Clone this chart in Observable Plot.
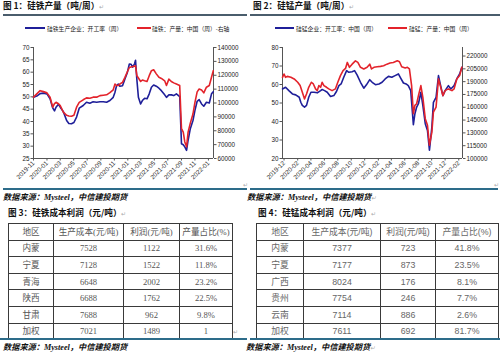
<!DOCTYPE html>
<html><head><meta charset="utf-8">
<script src="https://cdn.jsdelivr.net/npm/d3@7"></script>
<script src="https://cdn.jsdelivr.net/npm/@observablehq/plot@0.6"></script>
<style>
html,body{margin:0;padding:0;background:#fff;}
#page{position:relative;width:500px;height:354px;overflow:hidden;font-family:"Noto Sans CJK SC",sans-serif;background:#fff;}
.abs{position:absolute;white-space:nowrap;}
.title{font-size:8.6px;font-weight:bold;color:#111;line-height:10px;}
.ret{color:#aaa;font-weight:normal;font-size:6px;}
.bar{position:absolute;height:2px;}
.src{font-family:"Liberation Serif","Noto Sans CJK SC",serif;font-style:italic;font-weight:bold;font-size:8.2px;color:#111;line-height:10px;}
.legend{font-size:5.8px;color:#222;line-height:7px;}
.sw{position:absolute;height:1.6px;}
table{border-collapse:collapse;table-layout:fixed;position:absolute;}
td{border:1px solid #3a3a3a;text-align:center;vertical-align:middle;padding:0;overflow:hidden;white-space:nowrap;line-height:10px;}
#t3 td{font-family:"Liberation Serif","Noto Sans CJK SC",serif;font-size:8.6px;color:#555;}
#t4 td{font-family:"Liberation Sans","Noto Sans CJK SC",sans-serif;font-size:8.8px;color:#666;}
</style></head>
<body>
<div id="page">
  <div class="abs title" style="left:3px;top:0px">图 1：硅铁产量（吨/周）<span class="ret">↵</span></div>
  <div class="abs title" style="left:253px;top:0px">图 2：硅锰产量（吨/周）<span class="ret">↵</span></div>
  <div class="bar" style="left:3px;top:13.5px;width:244px;background:#4a5d6c"></div>
  <div class="bar" style="left:250px;top:13.5px;width:250px;background:#4a5d6c"></div>

  <div class="sw" style="left:25px;top:27px;width:20px;background:#1f1f99"></div>
  <div class="abs legend" style="left:47px;top:24.5px">硅铁生产企业：开工率（周）</div>
  <div class="sw" style="left:137px;top:27px;width:14px;background:#e3232b"></div>
  <div class="abs legend" style="left:152px;top:24.5px">硅铁：产量：中国（周）-右轴</div>

  <div class="sw" style="left:275px;top:27px;width:19px;background:#1f1f99"></div>
  <div class="abs legend" style="left:296px;top:24.5px">硅锰企业：开工率：中国（周）</div>
  <div class="sw" style="left:388px;top:27px;width:19px;background:#e3232b"></div>
  <div class="abs legend" style="left:409px;top:24.5px">硅锰：产量：中国（周）</div>

  <div id="c1" class="abs" style="left:0px;top:33px"></div>
  <div id="c2" class="abs" style="left:250px;top:33px"></div>

  <div class="abs ret" style="left:243px;top:180px">↵</div>
  <div class="abs ret" style="left:494px;top:180px">↵</div>
  <div class="bar" style="left:3px;top:188px;width:244px;background:#2d6c8a"></div>
  <div class="bar" style="left:250px;top:188px;width:248px;background:#2d6c8a"></div>

  <div class="abs src" style="left:3px;top:193px">数据来源：Mysteel，中信建投期货</div>
  <div class="abs src" style="left:247px;top:193px">数据来源：Mysteel，中信建投期货<span class="ret">↵</span></div>
  <div class="abs title" style="left:8px;top:207px">图 3：硅铁成本利润（元/吨）<span class="ret">↵</span></div>
  <div class="abs title" style="left:258px;top:207px">图 4：硅锰成本利润（元/吨）<span class="ret">↵</span></div>

  <table id="t3" style="left:8px;top:223px"></table>
  <table id="t4" style="left:256px;top:223px"></table>
  <div class="abs ret" style="left:233px;top:327px">↵</div>

  <div class="bar" style="left:0px;top:338px;width:247px;background:#2d6c8a"></div>
  <div class="bar" style="left:250px;top:338px;width:250px;background:#2d6c8a"></div>
  <div class="abs src" style="left:3px;top:343px">数据来源：Mysteel，中信建投期货</div>
  <div class="abs src" style="left:246px;top:343px">数据来源：Mysteel，中信建投期货<span class="ret">↵</span></div>
</div>
<script>
// ---------- Chart 1: 硅铁 ----------
const feDates = ["2019-11-01","2019-11-16","2019-12-01","2019-12-16","2020-01-01","2020-01-15","2020-01-27","2020-02-04","2020-02-11","2020-02-22",
"2020-03-01","2020-03-15","2020-03-30","2020-04-09","2020-04-21","2020-05-02","2020-05-14","2020-05-26","2020-06-13","2020-06-28",
"2020-07-13","2020-07-28","2020-08-13","2020-08-28","2020-09-12","2020-09-27","2020-10-12","2020-10-27","2020-11-04","2020-11-11",
"2020-11-19","2020-11-26","2020-12-08","2020-12-19","2020-12-30","2021-01-08","2021-01-16","2021-01-23","2021-02-01","2021-02-05",
"2021-02-11","2021-02-18","2021-02-28","2021-03-08","2021-03-18","2021-03-29","2021-04-08","2021-04-18","2021-04-28","2021-05-10",
"2021-05-22","2021-06-02","2021-06-17","2021-06-25","2021-07-06","2021-07-17","2021-07-28","2021-08-09","2021-08-24","2021-09-01",
"2021-09-09","2021-09-16","2021-09-24","2021-10-01","2021-10-11","2021-10-23","2021-11-01","2021-11-11","2021-11-20","2021-12-01",
"2021-12-11","2021-12-23","2022-01-05","2022-01-15","2022-01-23"];
const feRate = [49.8,50.3,51.3,51.5,51.2,49.2,45.5,44.3,45.8,47.0,
45.8,44.0,40.4,39.2,39.1,39.6,41.8,45.4,46.5,47.8,
47.4,48.0,47.8,48.0,48.0,47.8,48.5,49.8,51.9,54.5,
55.2,54.3,54.5,57.2,59.9,63.3,63.2,62.0,63.5,64.8,
57.0,49.8,47.1,48.5,49.4,49.2,51.2,53.9,54.8,54.3,
53.5,52.5,50.8,49.8,50.8,50.8,50.5,51.2,50.1,31.0,
30.6,29.7,28.3,32.4,37.1,40.4,44.5,48.2,48.9,47.1,
46.2,47.8,47.5,51.2,52.1];
const feOutput = [104200,106600,108900,108200,107300,104200,97000,99500,100500,99500,
98200,93400,91100,90600,90400,91100,97000,100500,102300,103700,
103400,104200,104200,105300,105600,105900,107500,109500,113700,112600,
112600,113700,114900,118500,122500,125600,126000,126300,126600,126800,
119700,118000,115500,116500,116000,115500,119700,123300,124000,121000,
118500,117700,116000,112600,117200,115500,114500,113700,112600,81500,
79000,71900,68400,79000,85500,92000,100500,108000,110100,109400,
107300,111400,112600,118500,123300];
const feLeftTicks = [25,30,35,40,45,50,55,60,65,70];
const feRightTicks = [60000,70000,80000,90000,100000,110000,120000,130000,140000];
const feXTicks = ["2019-11","2020-01","2020-03","2020-05","2020-07","2020-09","2020-11","2021-01","2021-03","2021-05","2021-07","2021-09","2021-11","2022-01"];
const feXDomain = ["2019-11-01","2022-01-24"];

// ---------- Chart 2: 硅锰 ----------
const mnRateDates = ["2019-11-24","2019-12-08","2019-12-23","2020-01-08","2020-01-23","2020-02-08","2020-02-15","2020-02-22","2020-03-03","2020-03-12",
"2020-03-22","2020-04-01","2020-04-15","2020-04-30","2020-05-15","2020-05-22","2020-06-02","2020-06-14","2020-06-29","2020-07-14",
"2020-07-26","2020-08-06","2020-08-16","2020-08-28","2020-09-10","2020-09-20","2020-10-05","2020-10-16","2020-10-28","2020-11-12",
"2020-11-27","2020-12-09","2020-12-24","2021-01-04","2021-01-19","2021-02-04","2021-02-18","2021-03-04","2021-03-19","2021-04-03",
"2021-04-18","2021-05-03","2021-05-14","2021-05-26","2021-06-07","2021-06-17","2021-06-28","2021-07-10","2021-07-17","2021-07-25",
"2021-08-02","2021-08-13","2021-08-22","2021-09-02","2021-09-12","2021-09-21","2021-10-02","2021-10-09","2021-10-21","2021-11-01",
"2021-11-09","2021-11-21","2021-12-01","2021-12-16","2021-12-27","2022-01-11","2022-01-23","2022-02-05","2022-02-15"];
const mnRate = [57.6,58.5,56.7,54.9,54.4,53.1,50.4,48.7,47.8,48.7,
53.1,55.8,55.8,55.5,56.7,57.3,56.7,55.8,53.5,54.0,
56.2,59.4,60.3,63.9,67.5,66.6,66.9,67.5,65.1,61.2,
58.0,59.8,62.6,61.2,59.9,60.3,61.2,63.0,64.4,63.9,
64.8,65.7,63.3,60.8,60.3,59.4,56.7,38.3,44.2,47.8,
49.6,55.8,48.7,38.8,35.2,24.5,37.0,50.4,53.1,64.8,
60.3,54.0,56.7,59.4,57.6,59.4,63.0,65.7,69.3];
const mnOutDates = ["2019-11-24","2019-12-01","2019-12-08","2019-12-16","2020-01-01","2020-01-16","2020-02-01","2020-02-12","2020-02-22","2020-03-03",
"2020-03-12","2020-03-22","2020-04-03","2020-04-12","2020-04-22","2020-04-30","2020-05-07","2020-05-15","2020-05-22","2020-05-30",
"2020-06-11","2020-06-21","2020-07-06","2020-07-21","2020-08-01","2020-08-13","2020-08-25","2020-09-05","2020-09-13","2020-09-23",
"2020-10-05","2020-10-20","2020-10-31","2020-11-12","2020-11-27","2020-12-12","2020-12-24","2021-01-01","2021-01-12","2021-01-27",
"2021-02-11","2021-02-25","2021-03-12","2021-03-26","2021-04-10","2021-04-28","2021-05-08","2021-05-18","2021-06-03","2021-06-13",
"2021-06-22","2021-07-02","2021-07-10","2021-07-17","2021-07-25","2021-08-02","2021-08-13","2021-08-22","2021-09-02","2021-09-12",
"2021-09-21","2021-10-02","2021-10-09","2021-10-21","2021-11-01","2021-11-09","2021-11-21","2021-12-01","2021-12-16","2022-01-01",
"2022-01-11","2022-01-23","2022-02-05","2022-02-15"];
const mnOutput = [195100,199000,195100,196200,195100,193200,189300,185400,177600,169800,
175600,183400,189300,187300,181500,179500,185400,183400,189300,185400,
183400,181500,179500,181500,189300,197100,202900,205500,212500,206800,
210500,214400,212500,206800,204900,206800,210500,204900,206800,207500,
207900,208600,210500,211800,212500,214400,213300,207500,206000,206800,
204900,185400,152400,162200,164100,173700,185400,171700,146600,138800,
115600,131000,154400,160200,193200,185400,173700,179500,181500,179500,
181500,193200,197100,206800];
const mnLeftTicks = [20,30,40,50,60,70,80];
const mnRightTicks = [100000,115000,130000,145000,160000,175000,190000,205000,220000];
const mnXTicks = ["2019-12","2020-02","2020-04","2020-06","2020-08","2020-10","2020-12","2021-02","2021-04","2021-06","2021-08","2021-10","2021-12","2022-02"];
const mnXDomain = ["2019-11-24","2022-02-18"];

// ---------- Tables ----------
const tableHeader3 = ["地区","生产成本(元/吨)","利润(元/吨)","产量占比(%)"];
const feRegions = ["内蒙","宁夏","青海","陕西","甘肃","加权"];
const feCost = [7528,7128,6648,6688,7688,7021];
const feProfit = [1122,1522,2002,1762,962,1489];
const feShare = ["31.6%","11.8%","23.2%","22.5%","9.8%","1"];

const tableHeader4 = ["地区","生产成本(元/吨)","利润(元/吨)","产量占比(%)"];
const mnRegions = ["内蒙","宁夏","广西","贵州","云南","加权"];
const mnCost = [7377,7177,8024,7754,7114,7611];
const mnProfit = [723,873,176,246,886,692];
const mnShare = ["41.8%","23.5%","8.1%","7.7%","2.6%","81.7%"];

const parseDay = d3.utcParse("%Y-%m-%d");
const parseMonth = d3.utcParse("%Y-%m");
const fmtMonth = d3.utcFormat("%Y-%m");
const BLUE = "#1f1f99", RED = "#e3232b", AX = "#555";

function dualChart({dates1, vals1, dates2, vals2, leftDomain, rightDomain, leftTicks, rightTicks, xTicks, xDomain, mL, mR}) {
  const toLeft = d3.scaleLinear().domain(rightDomain).range(leftDomain);
  const blue = dates1.map((d,i)=>({date: parseDay(d), v: vals1[i]}));
  const red = dates2.map((d,i)=>({date: parseDay(d), v: vals2[i]}));
  const x0 = parseDay(xDomain[0]), x1 = parseDay(xDomain[1]);
  return Plot.plot({
    width: 250, height: 152,
    marginLeft: mL, marginRight: mR, marginTop: 14, marginBottom: 27,
    style: {fontSize: "6.3px", fontFamily: "'Liberation Sans', Arial, sans-serif", color: "#222", background: "transparent", overflow: "visible"},
    x: {type: "utc", domain: [x0, x1]},
    y: {domain: leftDomain},
    marks: [
      Plot.ruleY([leftDomain[0]], {stroke: AX}),
      Plot.ruleX([x0], {stroke: AX}),
      Plot.ruleX([x1], {stroke: AX}),
      Plot.axisY({ticks: leftTicks, tickSize: 2.5, tickPadding: 1.5, label: null, stroke: AX}),
      Plot.axisY({anchor: "right", ticks: rightTicks.map(v => toLeft(v)), tickFormat: v => String(Math.round(toLeft.invert(v) / 100) * 100), tickSize: 2.5, tickPadding: 1.5, label: null, stroke: AX}),
      Plot.axisX({ticks: xTicks.map(parseMonth), tickFormat: fmtMonth, tickRotate: -45, tickSize: 2.5, tickPadding: 1, label: null, stroke: AX}),
      Plot.lineY(blue, {x: "date", y: "v", stroke: BLUE, strokeWidth: 1.6}),
      Plot.lineY(red, {x: "date", y: d => toLeft(d.v), stroke: RED, strokeWidth: 1.6})
    ]
  });
}

document.getElementById("c1").append(dualChart({
  dates1: feDates, vals1: feRate, dates2: feDates, vals2: feOutput,
  leftDomain: [25,70], rightDomain: [60000,140000],
  leftTicks: feLeftTicks, rightTicks: feRightTicks, xTicks: feXTicks, xDomain: feXDomain, mL: 33, mR: 37
}));
document.getElementById("c2").append(dualChart({
  dates1: mnRateDates, vals1: mnRate, dates2: mnOutDates, vals2: mnOutput,
  leftDomain: [20,80], rightDomain: [100000,230000],
  leftTicks: mnLeftTicks, rightTicks: mnRightTicks, xTicks: mnXTicks, xDomain: mnXDomain, mL: 32, mR: 38
}));

function fillTable(id, widths, header, regions, cost, profit, share) {
  const t = document.getElementById(id);
  t.style.width = d3.sum(widths) + "px";
  const cg = document.createElement("colgroup");
  widths.forEach(w => { const c = document.createElement("col"); c.style.width = w + "px"; cg.append(c); });
  t.append(cg);
  const rows = [header].concat(regions.map((r,i)=>[r, cost[i], profit[i], share[i]]));
  rows.forEach(r => {
    const tr = document.createElement("tr");
    tr.style.height = "16.6px";
    r.forEach(v => { const td = document.createElement("td"); td.textContent = v; tr.append(td); });
    t.append(tr);
  });
}
fillTable("t3", [45,70,56,53], tableHeader3, feRegions, feCost, feProfit, feShare);
fillTable("t4", [47,77,55,63], tableHeader4, mnRegions, mnCost, mnProfit, mnShare);
</script>
</body></html>
